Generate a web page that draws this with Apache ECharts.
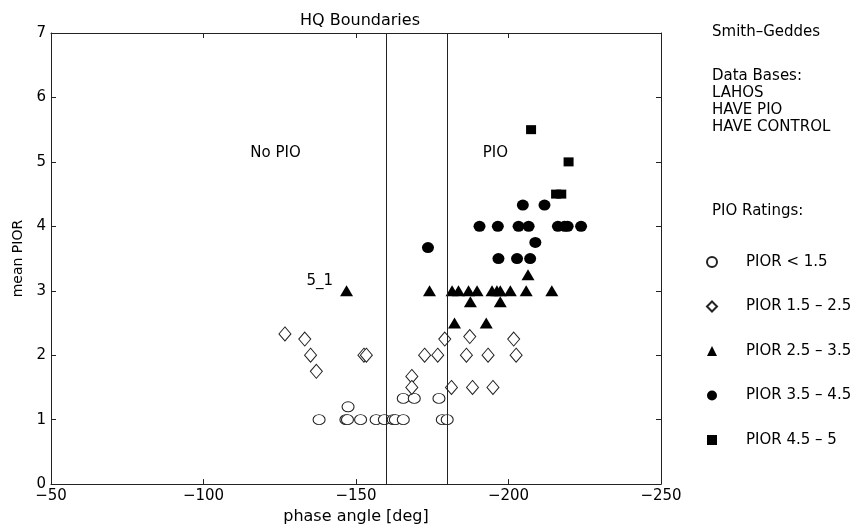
<!DOCTYPE html>
<html><head><meta charset="utf-8">
<script src="https://cdn.jsdelivr.net/npm/echarts@6/dist/echarts.min.js"></script>
<style>html,body{margin:0;padding:0;background:#fff}#c{width:867px;height:530px}</style>
</head><body><div id="c"></div>
<script>
// ---- data ----
var xTicks = [-250, -200, -150, -100, -50];
var boundaryLines = [-160, -180];
var seriesNames = ['PIOR < 1.5', 'PIOR 1.5 \u2013 2.5', 'PIOR 2.5 \u2013 3.5', 'PIOR 3.5 \u2013 4.5', 'PIOR 4.5 \u2013 5'];
var piorLow = [[-137.9,1],[-146.7,1],[-147.2,1],[-151.5,1],[-156.6,1],[-159.3,1],[-162.2,1],[-162.9,1],[-165.5,1],[-178.3,1],[-179.9,1],[-147.4,1.2],[-165.5,1.33],[-169.1,1.33],[-177.2,1.33]];
var piorMid = [[-126.7,2.33],[-133.2,2.25],[-135.1,2],[-137,1.75],[-152.6,2],[-153.4,2],[-172.5,2],[-176.8,2],[-179.1,2.25],[-168.3,1.67],[-168.3,1.5],[-187.3,2.29],[-201.7,2.25],[-186.2,2],[-193.3,2],[-202.5,2],[-181.3,1.5],[-188.2,1.5],[-194.9,1.5]];
var piorTri = [[-146.9,3],[-174.1,3],[-181.5,3],[-183.6,3],[-186.9,3],[-189.7,3],[-194.6,3],[-196.2,3],[-197.3,3],[-200.6,3],[-205.8,3],[-214.2,3],[-187.5,2.83],[-197.3,2.83],[-182.3,2.5],[-192.7,2.5],[-206.4,3.25]];
var piorDot = [[-173.6,3.67],[-190.5,4],[-196.5,4],[-203.3,4],[-206.6,4],[-216.2,4],[-218.4,4],[-219.4,4],[-223.8,4],[-204.7,4.33],[-211.8,4.33],[-208.8,3.75],[-196.7,3.5],[-202.8,3.5],[-207.1,3.5]];
var piorHigh = [[-207.4,5.5],[-219.7,5],[-215.6,4.5],[-217.3,4.5]];
var regionLabels = [[-123.6,5.15,'No PIO'],[-195.7,5.15,'PIO']];
var pointLabel = {x: -146.9, y: 3, text: '5_1'};

var FONT = '"DejaVu Sans", Verdana, sans-serif';
var ink = '#222';
function fmt(v){ return v < 0 ? '\u2212' + Math.abs(v) : String(v); }

var openStyle = {color: '#fff', borderColor: '#222', borderWidth: 1, opacity: 1};
var fillStyle = {color: '#000', opacity: 1};

var chart = echarts.init(document.getElementById('c'));
var axisCommon = {
  axisLine: {show: true, onZero: false, lineStyle: {color: ink, width: 1}},
  axisTick: {show: true, inside: true, length: 5, lineStyle: {color: ink}},
  splitLine: {show: false}
};
var triData = piorTri.map(function(p){
  if (p[0] === pointLabel.x && p[1] === pointLabel.y) {
    return {value: p, label: {show: true, formatter: pointLabel.text, position: 'left', offset: [-2, -10], color: '#000', fontFamily: FONT, fontSize: 15}};
  }
  return p;
});

chart.setOption({
  animation: false,
  backgroundColor: '#fff',
  title: {text: 'HQ Boundaries', left: 355, top: 8, textAlign: 'center',
    textStyle: {fontFamily: FONT, fontSize: 16, fontWeight: 'normal', color: '#000'}},
  grid: {left: 51, right: 206, top: 33, bottom: 44, containLabel: false},
  legend: {
    data: seriesNames, orient: 'vertical', left: 706, top: 254, itemGap: 28.5,
    itemWidth: 10, itemHeight: 10, padding: 0,
    textStyle: {fontFamily: FONT, fontSize: 15, color: '#000', lineHeight: 16, padding: [0,0,0,24]}
  },
  graphic: [
    {type: 'text', left: 712, top: 25, style: {text: 'Smith\u2013Geddes', font: '15px ' + FONT, fill: '#000'}},
    {type: 'text', left: 712, top: 68, style: {text: 'Data Bases:\nLAHOS\nHAVE PIO\nHAVE CONTROL', font: '15px ' + FONT, fill: '#000', lineHeight: 17}},
    {type: 'text', left: 712, top: 204, style: {text: 'PIO Ratings:', font: '15px ' + FONT, fill: '#000'}}
  ],
  xAxis: [
    Object.assign({type: 'value', position: 'bottom', inverse: true, min: -250, max: -50, interval: 50,
      name: 'phase angle [deg]', nameLocation: 'middle', nameGap: 23,
      nameTextStyle: {fontFamily: FONT, fontSize: 16, color: '#000'},
      axisLabel: {formatter: fmt, fontFamily: FONT, fontSize: 15, color: '#000', margin: 5}}, axisCommon),
    Object.assign({type: 'value', position: 'top', inverse: true, min: -250, max: -50, interval: 50,
      axisLabel: {show: false}}, axisCommon)
  ],
  yAxis: [
    Object.assign({type: 'value', position: 'left', min: 0, max: 7, interval: 1,
      name: 'mean PIOR', nameLocation: 'middle', nameGap: 20, nameRotate: 90,
      nameTextStyle: {fontFamily: FONT, fontSize: 14, color: '#000'},
      axisLabel: {fontFamily: FONT, fontSize: 15, color: '#000', margin: 5}}, axisCommon),
    Object.assign({type: 'value', position: 'right', min: 0, max: 7, interval: 1,
      axisLabel: {show: false}}, axisCommon)
  ],
  series: [
    {name: seriesNames[0], type: 'scatter', symbol: 'circle', symbolSize: [12, 10], data: piorLow, itemStyle: openStyle, z: 3,
      markLine: {silent: true, symbol: 'none', label: {show: false}, animation: false,
        lineStyle: {color: ink, width: 1, type: 'solid', opacity: 1},
        data: boundaryLines.map(function(v){ return {xAxis: v}; })}},
    {name: seriesNames[1], type: 'scatter', symbol: 'diamond', symbolSize: [12, 14], data: piorMid, itemStyle: openStyle, z: 3},
    {name: seriesNames[2], type: 'scatter', symbol: 'triangle', symbolSize: [13, 11], data: triData, itemStyle: fillStyle, z: 4},
    {name: seriesNames[3], type: 'scatter', symbol: 'circle', symbolSize: [12, 11], data: piorDot, itemStyle: fillStyle, z: 4},
    {name: seriesNames[4], type: 'scatter', symbol: 'rect', symbolSize: [10, 9], data: piorHigh, itemStyle: fillStyle, z: 4},
    {name: 'regions', type: 'scatter', symbol: 'circle', symbolSize: 1, silent: true,
      itemStyle: {color: '#fff', opacity: 1},
      data: regionLabels.map(function(r){ return {value: [r[0], r[1]]}; }),
      label: {show: true, position: 'top', distance: -9, opacity: 1, color: '#000', textBorderWidth: 0,
        fontFamily: FONT, fontSize: 15,
        formatter: function(p){ return regionLabels[p.dataIndex][2]; }}}
  ]
});
</script></body></html>
